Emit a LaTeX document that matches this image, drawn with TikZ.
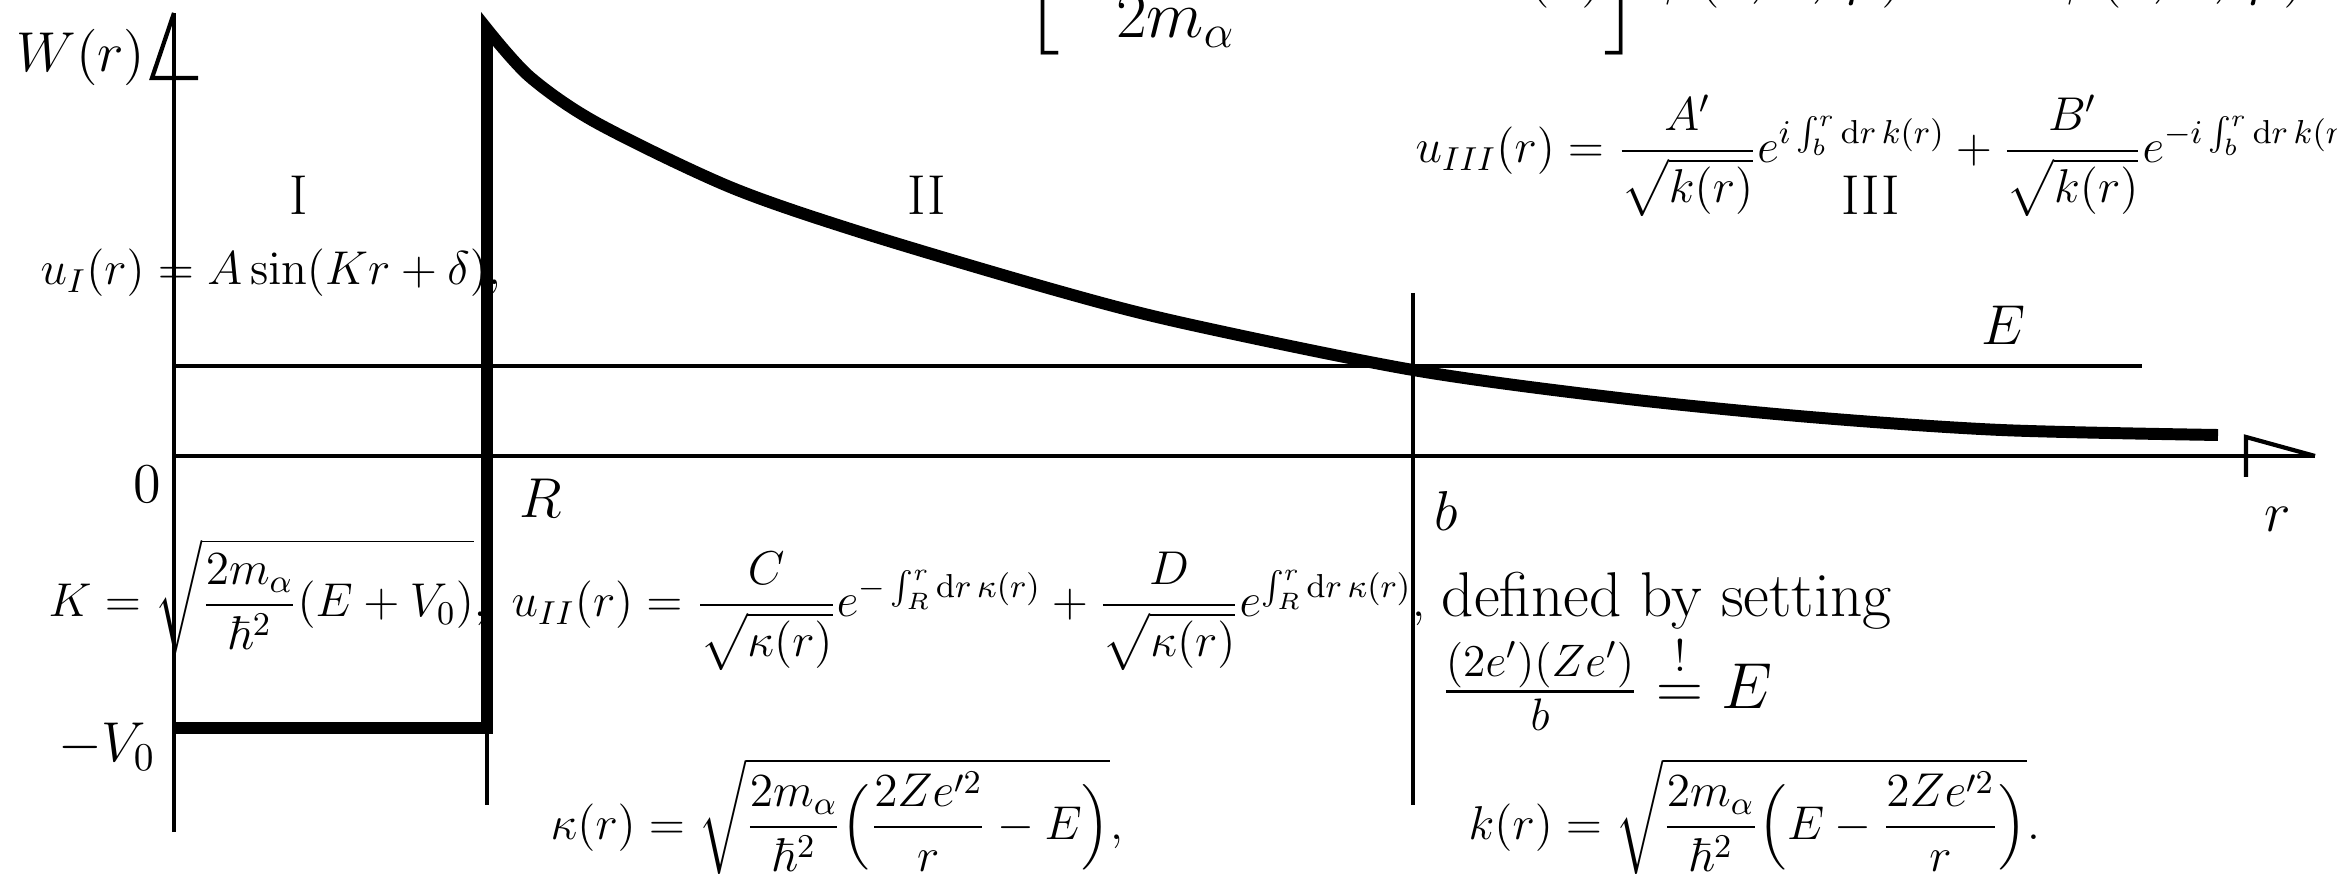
\documentclass[tikz,border=0pt]{standalone}
\usepackage{fix-cm}
\usepackage{amsmath,amssymb}
\usetikzlibrary{positioning}

\tikzset{
  axisline/.style={line width=1.2pt},
  potline/.style={line width=3.4pt,line join=miter},
  lbl/.style={inner sep=0pt,font=\fontsize{16}{19}\selectfont},
  formula/.style={inner sep=0pt,anchor=base west,font=\fontsize{13.5}{16}\selectfont},
}

\begin{document}
\begin{tikzpicture}[x=1cm,y=1cm]
\useasboundingbox (-1.74,-4.36) rectangle (21.63,4.56);
% axes with half arrow heads
\draw[axisline] (0,-3.76) -- (0,4.43);
\draw[axisline] (0,4.43) -- (-0.22,3.78) -- (0.24,3.78);
\draw[axisline] (0,0) -- (21.41,0);
\draw[axisline] (21.41,0) -- (20.72,0.19) -- (20.72,-0.21);
% energy level and the two radii
\draw[axisline] (0,0.90) -- (19.68,0.90);
\draw[axisline] (3.13,-2.72) -- (3.13,-3.49);
\draw[axisline] (12.39,1.63) -- (12.39,-3.49);
% potential W(r)
\draw[potline] (0,-2.72) -- (3.13,-2.72) -- plot[smooth] coordinates {(3.13,4.27) (3.56,3.79) (4.23,3.33) (5.56,2.69) (6.89,2.23) (8.81,1.66) (10.09,1.33) (12.39,0.86) (14.45,0.58) (16.36,0.39) (18.27,0.26) (20.44,0.21)};

\node[lbl,anchor=base east] (wlab) at (-0.28,3.84) {$W(r)$};
\node[lbl,anchor=base east] (zero) at (-0.12,-0.47) {$0$};
\node[lbl,anchor=base east] (vnull) at (-0.18,-3.06) {$-V_0$};
\node[lbl,anchor=base west] (rlab) at (3.45,-0.61) {$R$};
\node[lbl,anchor=base west] (blab) at (12.60,-0.74) {$b$};
\node[lbl,anchor=base west] (raxis) at (20.90,-0.76) {$r$};
\node[lbl,anchor=base] (elab) at (18.30,1.11) {$E$};
\node[lbl,anchor=base] (reg1) at (1.25,2.41) {I};
\node[lbl,anchor=base] (reg2) at (7.53,2.41) {II};
\node[lbl,anchor=base] (reg3) at (16.97,2.41) {III};

\node[lbl,anchor=base west,font=\fontsize{19}{22}\selectfont] (schr) at (8.50,4.64) {$\displaystyle\left[-\frac{\hbar^2}{2m_\alpha}\hspace{1.3em}\Delta+W(r)\right]\psi(r,\theta,\varphi)=E\,\psi(r,\theta,\varphi)$};
\node[formula] (uone) at (-1.34,1.71) {$u_I(r)=A\sin(Kr+\delta),$};
\node[formula] (uthree) at (12.41,2.93) {$\displaystyle u_{III}(r)=\frac{A'}{\sqrt{k(r)}}e^{i\int_b^r\mathrm{d}r\,k(r)}+\frac{B'}{\sqrt{k(r)}}e^{-i\int_b^r\mathrm{d}r\,k(r)},$};
\node[formula] (Kdef) at (-1.26,-1.61) {$\displaystyle K=\sqrt{\frac{2m_\alpha}{\hbar^2}(E+V_0)},$};
\node[formula] (utwo) at (3.37,-1.61) {$\displaystyle u_{II}(r)=\frac{C}{\sqrt{\kappa(r)}}e^{-\int_R^r\mathrm{d}r\,\kappa(r)}+\frac{D}{\sqrt{\kappa(r)}}e^{\int_R^r\mathrm{d}r\,\kappa(r)},$};
\node[lbl,anchor=base west,font=\fontsize{18}{21}\selectfont] (defb) at (12.67,-1.61) {defined by setting};
\node[lbl,anchor=base west,font=\fontsize{18.5}{21}\selectfont] (bcond) at (12.67,-2.52) {$\tfrac{(2e')(Ze')}{b}\overset{!}{=}E$};
\node[formula] (kappa) at (3.76,-3.83) {$\displaystyle\kappa(r)=\sqrt{\frac{2m_\alpha}{\hbar^2}\Bigl(\frac{2Ze'^2}{r}-E\Bigr)},$};
\node[formula] (kdef) at (12.94,-3.83) {$\displaystyle k(r)=\sqrt{\frac{2m_\alpha}{\hbar^2}\Bigl(E-\frac{2Ze'^2}{r}\Bigr)}.$};
\end{tikzpicture}
\end{document}
